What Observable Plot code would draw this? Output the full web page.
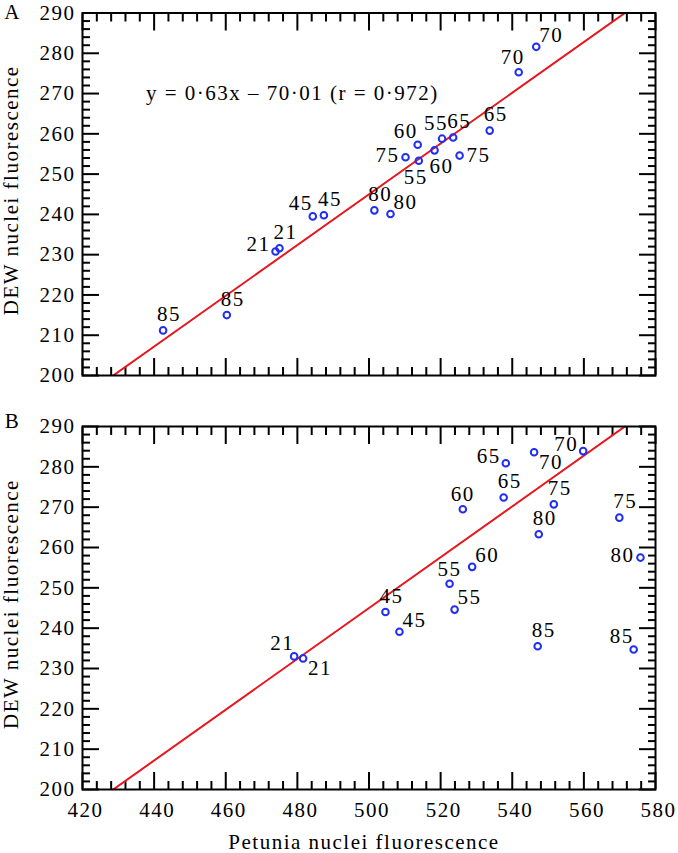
<!DOCTYPE html>
<html><head><meta charset="utf-8">
<script src="https://cdn.jsdelivr.net/npm/d3@7"></script>
<script src="https://cdn.jsdelivr.net/npm/@observablehq/plot@0.6"></script>
<style>
body{margin:0;background:#fff;}
#chart svg{display:block;font-family:'Liberation Serif','DejaVu Serif',serif !important;font-size:21px !important;}
#chart svg text{font-family:'Liberation Serif','DejaVu Serif',serif !important;letter-spacing:1.5px;}
</style></head>
<body><div id="chart"></div>
<script>
// ---- Data ----
const xTicks = [420, 440, 460, 480, 500, 520, 540, 560, 580];
const yTicks = [200, 210, 220, 230, 240, 250, 260, 270, 280, 290];
const xTitle = "Petunia nuclei fluorescence";
const yTitle = "DEW nuclei fluorescence";

// Panel A
const aLabels = ["85","85","21","21","45","45","80","80","75","55","60","60","55","65","75","65","70","70"];
const aPetunia = [442.5,460.3,473.9,475.0,484.3,487.4,501.5,506.0,510.2,513.9,513.6,518.3,520.4,523.5,525.3,533.7,541.8,546.7];
const aDEW = [211.2,215.0,230.8,231.6,239.5,239.8,241.0,240.1,254.2,253.3,257.3,255.9,258.8,259.1,254.6,260.8,275.3,281.6];
const aSide = ["n","n","wn","n","nw","n","n","ne","w","s","nw","sr","nl","n","e","n","nl","ne"];

// Panel B
const bLabels = ["21","21","45","45","55","55","60","60","65","65","70","70","75","80","75","80","85","85"];
const bPetunia = [479.1,481.6,504.6,508.5,522.5,523.9,528.8,526.2,537.6,538.2,546.1,559.8,551.6,547.4,569.9,575.8,547.1,573.9];
const bDEW = [233.0,232.5,244.0,239.1,251.0,244.6,255.2,269.5,272.4,280.9,283.6,283.9,270.7,263.3,267.4,257.5,235.5,234.7];
const bSide = ["nw","se","n","ne","nc","ne","ne","nc","n","wn","se","wn","n","n","n","w","n","nw"];

// Regression (from the figure's equation)
const slope = 0.63, intercept = -70.01;
const equationParts = [["y", true], [" = 0·63", false], ["x", true], [" – 70·01 (", false], ["r", true], [" = 0·972)", false]];
const equationAt = {x: 478.6, y: 270.0};

// ---- Styles / layout ----
const FONT = "Liberation Serif";
const FS = 21;
const BLUE = "#1f2ef0";
const RED = "#e8161e";
const sideOffsets = {
  n: [6, -16], nc: [0, -15], nl: [-6, -15], nw: [-12, -13], ne: [15, -12],
  e: [19, 0], w: [-18, -2], wn: [-17, -7], s: [-3, 16], sr: [7, 16], se: [17, 10]
};
const minorX = d3.range(420, 581, 4).filter(v => v % 20 !== 0);
const minorY = d3.range(200, 291, 2).filter(v => v % 10 !== 0);
const txt = {fontFamily: FONT, fontSize: FS, fill: "black"};

function panel({xs, ys, labels, sides, height, marginTop, marginBottom, letter, letterDy, showX, equation, yTitleDy}) {
  const pts = xs.map((x, i) => ({x, y: ys[i], label: labels[i], side: sides[i]}));
  const line = [420, 580].map(x => ({x, y: slope * x + intercept}));
  const marks = [];
  for (const anchor of ["bottom", "top"]) {
    marks.push(Plot.axisX(xTicks, {anchor, tickSize: -17, strokeWidth: 2, tickFormat: () => "", label: null}));
    marks.push(Plot.axisX(minorX, {anchor, tickSize: -8, strokeWidth: 2, tickFormat: () => "", label: null}));
  }
  for (const anchor of ["left", "right"]) {
    marks.push(Plot.axisY(yTicks, {anchor, tickSize: -17, strokeWidth: 2, tickFormat: () => "", label: null}));
    marks.push(Plot.axisY(minorY, {anchor, tickSize: -8, strokeWidth: 2, tickFormat: () => "", label: null}));
  }
  marks.push(Plot.axisY(yTicks, {anchor: "left", tickSize: 0, tickPadding: 7, label: null, ...txt}));
  if (showX) {
    marks.push(Plot.axisX(xTicks, {anchor: "bottom", tickSize: 0, tickPadding: 13, dx: 3, label: null, ...txt}));
    marks.push(Plot.text([xTitle], {frameAnchor: "bottom", dy: 53, dx: -5, textAnchor: "middle", lineAnchor: "middle", ...txt}));
  }
  marks.push(Plot.line(line, {x: "x", y: "y", stroke: RED, strokeWidth: 2, clip: true}));
  marks.push(Plot.dot(pts, {x: "x", y: "y", r: 3.3, stroke: BLUE, strokeWidth: 2, fill: "none"}));
  for (const [code, [dx, dy]] of Object.entries(sideOffsets)) {
    const sub = pts.filter(d => d.side === code);
    if (sub.length) marks.push(Plot.text(sub, {x: "x", y: "y", text: "label", dx, dy, textAnchor: "middle", lineAnchor: "middle", ...txt}));
  }
  marks.push(Plot.frame({stroke: "black", strokeWidth: 2}));
  marks.push(Plot.text([letter], {frameAnchor: "top-left", dx: -70, dy: letterDy, textAnchor: "middle", lineAnchor: "middle", ...txt}));
  marks.push(Plot.text([yTitle], {frameAnchor: "left", dx: -71, dy: yTitleDy, rotate: -90, textAnchor: "middle", lineAnchor: "middle", ...txt}));
  if (equation) {
    marks.push(Plot.text([{x: equationAt.x, y: equationAt.y, t: equationParts.map(p => p[0]).join("")}],
      {x: "x", y: "y", text: "t", textAnchor: "middle", lineAnchor: "middle", ariaLabel: "equation", ...txt}));
  }
  const svg = Plot.plot({
    width: 678, height, marginTop, marginBottom, marginLeft: 82, marginRight: 23,
    x: {domain: [420, 580]},
    y: {domain: [200, 290]},
    style: {fontFamily: "Liberation Serif, serif", fontSize: "21px", background: "white", color: "black", overflow: "visible"},
    marks
  });
  if (equation) {
    const t = d3.select(svg).select('g[aria-label="equation"] text');
    t.text(null);
    for (const [s, it] of equationParts) {
      t.append("tspan").attr("font-style", it ? "italic" : null).text(s);
    }
  }
  return svg;
}

const chart = document.getElementById("chart");
chart.append(panel({xs: aPetunia, ys: aDEW, labels: aLabels, sides: aSide, height: 400, marginTop: 12.5, marginBottom: 25,
  letter: "A", letterDy: -1, showX: false, equation: true, yTitleDy: -4}));
chart.append(panel({xs: bPetunia, ys: bDEW, labels: bLabels, sides: bSide, height: 453, marginTop: 26, marginBottom: 64,
  letter: "B", letterDy: -5, showX: true, equation: false, yTitleDy: -4}));
</script>
</body></html>
